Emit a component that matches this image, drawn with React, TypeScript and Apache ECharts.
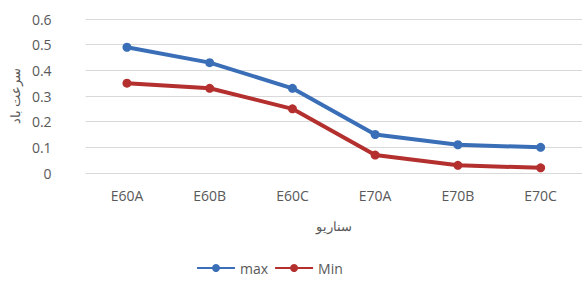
import React, { useEffect, useRef } from "react";
import * as echarts from "echarts";

const categories = ["E60A", "E60B", "E60C", "E70A", "E70B", "E70C"];
const maxValues = [0.49, 0.43, 0.33, 0.15, 0.11, 0.1];
const minValues = [0.35, 0.33, 0.25, 0.07, 0.03, 0.02];
const yTicks = [0, 0.1, 0.2, 0.3, 0.4, 0.5, 0.6];

const FONT = "'Open Sans', sans-serif";

export default function App() {
  const ref = useRef<HTMLDivElement>(null);
  useEffect(() => {
    const chart = echarts.init(ref.current!, undefined, { renderer: "svg" });
    chart.setOption({
      animation: false,
      backgroundColor: "#ffffff",
      grid: { left: 80, right: 2, top: 19, bottom: 115 },
      legend: {
        bottom: 8,
        left: 191,
        itemWidth: 38,
        itemHeight: 10,
        itemGap: 6,
        textStyle: { color: "#595959", fontSize: 14, fontFamily: FONT },
        data: ["max", "Min"],
      },
      xAxis: {
        type: "category",
        data: categories,
        name: "سناریو",
        nameLocation: "middle",
        nameGap: 46,
        nameTextStyle: { color: "#595959", fontSize: 13, fontFamily: "'Noto Sans', sans-serif" },
        axisLine: { show: false },
        axisTick: { show: false },
        axisLabel: { color: "#595959", fontSize: 14, fontFamily: FONT, margin: 15 },
      },
      yAxis: {
        type: "value",
        min: yTicks[0],
        max: yTicks[yTicks.length - 1],
        interval: 0.1,
        name: "سرعت باد",
        nameLocation: "middle",
        nameGap: 57,
        nameTextStyle: { color: "#595959", fontSize: 13, fontFamily: "'Noto Sans', sans-serif" },
        axisLine: { show: false },
        axisTick: { show: false },
        axisLabel: { color: "#595959", fontSize: 14, fontFamily: FONT, margin: 34 },
        splitLine: { lineStyle: { color: "#d9d9d9", width: 1 } },
      },
      series: [
        {
          name: "max",
          type: "line",
          data: maxValues,
          symbol: "circle",
          symbolSize: 9,
          itemStyle: { color: "#3a6fb8" },
          lineStyle: { color: "#3a6fb8", width: 4 },
        },
        {
          name: "Min",
          type: "line",
          data: minValues,
          symbol: "circle",
          symbolSize: 9,
          itemStyle: { color: "#b3302f" },
          lineStyle: { color: "#b3302f", width: 4 },
        },
      ],
    });
    return () => chart.dispose();
  }, []);
  return (
    <div
      ref={ref}
      style={{ position: "absolute", left: 0, top: 0, width: 584, height: 288 }}
    />
  );
}
